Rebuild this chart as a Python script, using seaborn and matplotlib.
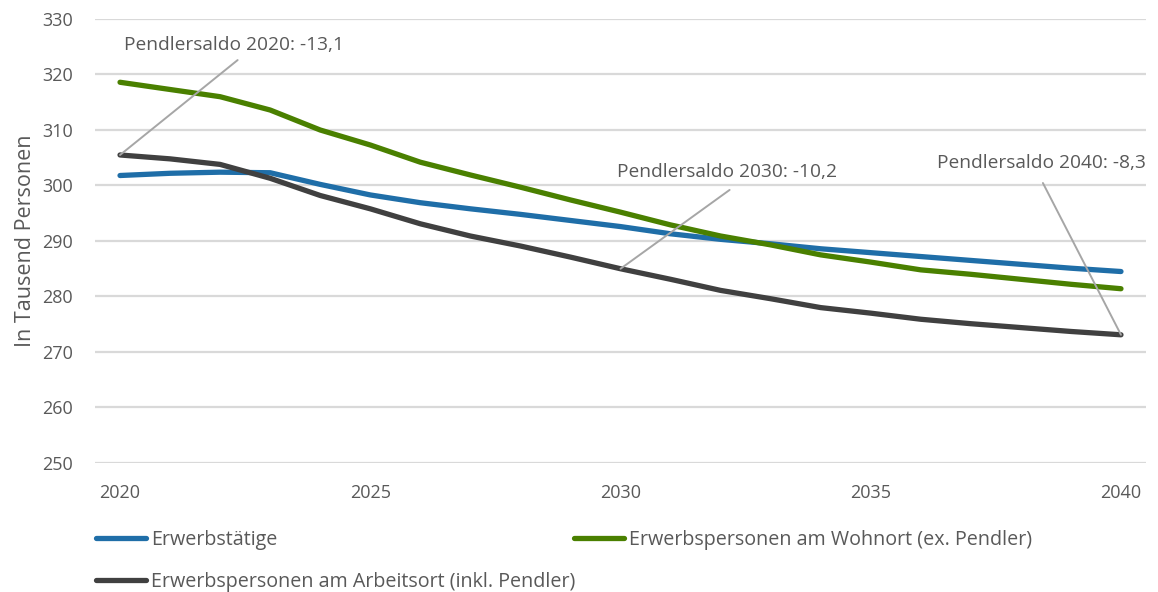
import numpy as np
import pandas as pd
import matplotlib
matplotlib.use("Agg")
import matplotlib.pyplot as plt
import seaborn as sns
from matplotlib.lines import Line2D

years = list(range(2020, 2041))
erwerbstaetige = [301.8, 302.2, 302.4, 302.3, 300.2, 298.3, 296.9, 295.8, 294.8, 293.7,
                  292.6, 291.3, 290.3, 289.5, 288.6, 287.9, 287.2, 286.5, 285.8, 285.1, 284.5]
wohnort = [318.6, 317.3, 316.0, 313.6, 310.0, 307.3, 304.2, 301.9, 299.7, 297.4,
           295.2, 292.9, 290.9, 289.3, 287.5, 286.2, 284.8, 284.0, 283.1, 282.2, 281.4]
arbeitsort = [305.5, 304.8, 303.8, 301.3, 298.2, 295.8, 293.1, 290.9, 289.1, 287.1,
              285.0, 283.1, 281.1, 279.6, 278.0, 277.0, 275.9, 275.1, 274.4, 273.7, 273.1]
series_names = ["Erwerbstätige",
                "Erwerbspersonen am Wohnort (ex. Pendler)",
                "Erwerbspersonen am Arbeitsort (inkl. Pendler)"]
ann_years = [2020, 2030, 2040]
ann_labels = ["Pendlersaldo 2020: -13,1", "Pendlersaldo 2030: -10,2", "Pendlersaldo 2040: -8,3"]
yticks = [250, 260, 270, 280, 290, 300, 310, 320, 330]
xticks = [2020, 2025, 2030, 2035, 2040]

colors = {series_names[0]: "#1F6EA8", series_names[1]: "#4A8000", series_names[2]: "#404040"}

df = pd.concat([
    pd.DataFrame({"Jahr": years, "Wert": vals, "Reihe": name})
    for name, vals in zip(series_names, [erwerbstaetige, wohnort, arbeitsort])
])

sns.set_style("white")
plt.rcParams["font.family"] = ["Open Sans", "DejaVu Sans"]

TXT = 13.8
LEG = 14.2
fig = plt.figure(figsize=(11.58, 5.92), dpi=100)
ax = fig.add_axes([95/1158, 1-463/592, (1146-95)/1158, (463-19)/592])

sns.lineplot(data=df, x="Jahr", y="Wert", hue="Reihe", palette=colors,
             hue_order=series_names, linewidth=3.8, ax=ax, legend=False,
             solid_capstyle="round", zorder=3)

ax.set_xlim(2019.5, 2040.5)
ax.set_ylim(250, 330)
ax.set_yticks(yticks)
ax.set_xticks(xticks)
ax.set_xticklabels([str(x) for x in xticks])
ax.grid(axis="y", color="#D9D9D9", linewidth=1.6)
ax.grid(axis="x", visible=False)
ax.set_axisbelow(True)
for s in ax.spines.values():
    s.set_visible(False)
ax.tick_params(axis="both", length=0, labelsize=13, colors="#595959")
ax.tick_params(axis="y", pad=16)
ax.tick_params(axis="x", pad=15)
ax.set_xlabel("")
ax.set_ylabel("In Tausend Personen", fontsize=15.5, color="#595959", labelpad=4)

# annotations
text_pos = [(2020.08, 325.3), (2029.94, 302.4), (2036.33, 304.1)]
line_end = [(2022.35, 322.6), (2032.18, 299.2), (2038.44, 300.45)]
for yr, lab, tp, le in zip(ann_years, ann_labels, text_pos, line_end):
    yv = arbeitsort[years.index(yr)]
    ax.plot([yr, le[0]], [yv, le[1]], color="#A6A6A6", linewidth=1.4, zorder=4)
    ax.text(tp[0], tp[1], lab, fontsize=TXT, color="#595959", ha="left", va="center", zorder=5)

handles = [Line2D([], [], color=colors[n], linewidth=3.8, solid_capstyle="round") for n in series_names]
kw = dict(frameon=False, handlelength=2.55, handletextpad=0.25, fontsize=LEG,
          labelcolor="#595959", loc="upper left", borderaxespad=0, borderpad=0)
leg1 = fig.legend([handles[0], handles[2]], [series_names[0], series_names[2]],
                  bbox_to_anchor=(96/1158, 1-530/592), labelspacing=1.1, **kw)
leg2 = fig.legend([handles[1]], [series_names[1]],
                  bbox_to_anchor=(574/1158, 1-530/592), **kw)

fig.savefig("out.png", dpi=100)
